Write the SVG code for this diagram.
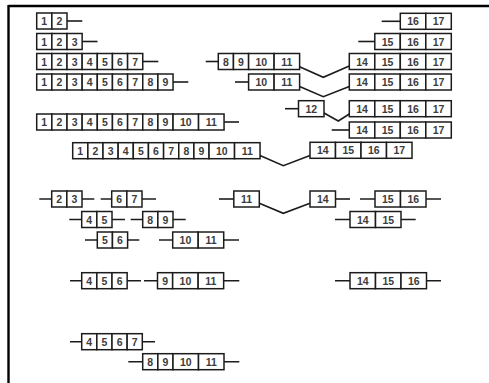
<svg xmlns="http://www.w3.org/2000/svg" width="489" height="383" viewBox="0 0 489 383">
<style>
rect{fill:#fff;stroke:#1c1c1c;stroke-width:1.5}
text{font-family:"Liberation Sans",Arial,sans-serif;font-size:10.5px;font-weight:bold;fill:#3c3c3c;text-anchor:middle}
line,polyline{stroke:#1c1c1c;stroke-width:1.6;fill:none}
.frame{stroke:#000;stroke-width:2.4}
</style>
<rect width="489" height="383" style="fill:#fff;stroke:none"/>
<line class="frame" x1="8.5" y1="6" x2="489" y2="6"/>
<line class="frame" x1="8.5" y1="5" x2="8.5" y2="383"/>

<g id="n-1-2">
<line x1="67" y1="21" x2="82.3" y2="21"/>
<rect x="36.7" y="13" width="15.15" height="16"/><rect x="51.85" y="13" width="15.15" height="16"/>
<text x="44.28" y="25">1</text><text x="59.43" y="25">2</text>
</g>
<g id="n-1-3">
<line x1="82.15" y1="41.5" x2="97.5" y2="41.5"/>
<rect x="36.7" y="33.5" width="15.15" height="16"/><rect x="51.85" y="33.5" width="15.15" height="16"/><rect x="67" y="33.5" width="15.15" height="16"/>
<text x="44.28" y="45.5">1</text><text x="59.43" y="45.5">2</text><text x="74.58" y="45.5">3</text>
</g>
<g id="n-1-7">
<line x1="142.75" y1="61.5" x2="158.3" y2="61.5"/>
<rect x="36.7" y="53.5" width="15.15" height="16"/><rect x="51.85" y="53.5" width="15.15" height="16"/><rect x="67" y="53.5" width="15.15" height="16"/><rect x="82.15" y="53.5" width="15.15" height="16"/><rect x="97.3" y="53.5" width="15.15" height="16"/><rect x="112.45" y="53.5" width="15.15" height="16"/><rect x="127.6" y="53.5" width="15.15" height="16"/>
<text x="44.28" y="65.5">1</text><text x="59.43" y="65.5">2</text><text x="74.58" y="65.5">3</text><text x="89.73" y="65.5">4</text><text x="104.88" y="65.5">5</text><text x="120.03" y="65.5">6</text><text x="135.18" y="65.5">7</text>
</g>
<g id="n-1-9">
<line x1="173.05" y1="82" x2="188.3" y2="82"/>
<rect x="36.7" y="74" width="15.15" height="16"/><rect x="51.85" y="74" width="15.15" height="16"/><rect x="67" y="74" width="15.15" height="16"/><rect x="82.15" y="74" width="15.15" height="16"/><rect x="97.3" y="74" width="15.15" height="16"/><rect x="112.45" y="74" width="15.15" height="16"/><rect x="127.6" y="74" width="15.15" height="16"/><rect x="142.75" y="74" width="15.15" height="16"/><rect x="157.9" y="74" width="15.15" height="16"/>
<text x="44.28" y="86">1</text><text x="59.43" y="86">2</text><text x="74.58" y="86">3</text><text x="89.73" y="86">4</text><text x="104.88" y="86">5</text><text x="120.03" y="86">6</text><text x="135.18" y="86">7</text><text x="150.33" y="86">8</text><text x="165.48" y="86">9</text>
</g>
<g id="n-1-11a">
<line x1="224.05" y1="122" x2="239" y2="122"/>
<rect x="36.7" y="114" width="15.15" height="16"/><rect x="51.85" y="114" width="15.15" height="16"/><rect x="67" y="114" width="15.15" height="16"/><rect x="82.15" y="114" width="15.15" height="16"/><rect x="97.3" y="114" width="15.15" height="16"/><rect x="112.45" y="114" width="15.15" height="16"/><rect x="127.6" y="114" width="15.15" height="16"/><rect x="142.75" y="114" width="15.15" height="16"/><rect x="157.9" y="114" width="15.15" height="16"/><rect x="173.05" y="114" width="25.5" height="16"/><rect x="198.55" y="114" width="25.5" height="16"/>
<text x="44.28" y="126">1</text><text x="59.43" y="126">2</text><text x="74.58" y="126">3</text><text x="89.73" y="126">4</text><text x="104.88" y="126">5</text><text x="120.03" y="126">6</text><text x="135.18" y="126">7</text><text x="150.33" y="126">8</text><text x="165.48" y="126">9</text><text x="185.8" y="126">10</text><text x="211.3" y="126">11</text>
</g>
<g id="n-8-11">
<line x1="205.7" y1="61.5" x2="218.3" y2="61.5"/>
<rect x="218.3" y="53.5" width="15.15" height="16"/><rect x="233.45" y="53.5" width="15.15" height="16"/><rect x="248.6" y="53.5" width="25.5" height="16"/><rect x="274.1" y="53.5" width="25.5" height="16"/>
<text x="225.88" y="65.5">8</text><text x="241.03" y="65.5">9</text><text x="261.35" y="65.5">10</text><text x="286.85" y="65.5">11</text>
</g>
<g id="n-10-11a">
<line x1="235" y1="82" x2="248.6" y2="82"/>
<rect x="248.6" y="74" width="25.5" height="16"/><rect x="274.1" y="74" width="25.5" height="16"/>
<text x="261.35" y="86">10</text><text x="286.85" y="86">11</text>
</g>
<g id="n-12">
<line x1="285" y1="108.7" x2="298.5" y2="108.7"/>
<rect x="298.5" y="100.7" width="25.5" height="16"/>
<text x="311.25" y="112.7">12</text>
</g>
<g id="n-16-17">
<line x1="381.7" y1="21.3" x2="400.3" y2="21.3"/>
<rect x="400.3" y="13.3" width="25.5" height="16"/><rect x="425.8" y="13.3" width="25.5" height="16"/>
<text x="413.05" y="25.3">16</text><text x="438.55" y="25.3">17</text>
</g>
<g id="n-15-17">
<line x1="358.3" y1="41.5" x2="374.8" y2="41.5"/>
<rect x="374.8" y="33.5" width="25.5" height="16"/><rect x="400.3" y="33.5" width="25.5" height="16"/><rect x="425.8" y="33.5" width="25.5" height="16"/>
<text x="387.55" y="45.5">15</text><text x="413.05" y="45.5">16</text><text x="438.55" y="45.5">17</text>
</g>
<g id="n-14-17a">
<rect x="349.3" y="53.5" width="25.5" height="16"/><rect x="374.8" y="53.5" width="25.5" height="16"/><rect x="400.3" y="53.5" width="25.5" height="16"/><rect x="425.8" y="53.5" width="25.5" height="16"/>
<text x="362.05" y="65.5">14</text><text x="387.55" y="65.5">15</text><text x="413.05" y="65.5">16</text><text x="438.55" y="65.5">17</text>
</g>
<g id="n-14-17b">
<rect x="349.3" y="74" width="25.5" height="16"/><rect x="374.8" y="74" width="25.5" height="16"/><rect x="400.3" y="74" width="25.5" height="16"/><rect x="425.8" y="74" width="25.5" height="16"/>
<text x="362.05" y="86">14</text><text x="387.55" y="86">15</text><text x="413.05" y="86">16</text><text x="438.55" y="86">17</text>
</g>
<g id="n-14-17c">
<rect x="349.3" y="100.7" width="25.5" height="16"/><rect x="374.8" y="100.7" width="25.5" height="16"/><rect x="400.3" y="100.7" width="25.5" height="16"/><rect x="425.8" y="100.7" width="25.5" height="16"/>
<text x="362.05" y="112.7">14</text><text x="387.55" y="112.7">15</text><text x="413.05" y="112.7">16</text><text x="438.55" y="112.7">17</text>
</g>
<g id="n-14-17d">
<line x1="331.7" y1="130" x2="349.3" y2="130"/>
<rect x="349.3" y="122" width="25.5" height="16"/><rect x="374.8" y="122" width="25.5" height="16"/><rect x="400.3" y="122" width="25.5" height="16"/><rect x="425.8" y="122" width="25.5" height="16"/>
<text x="362.05" y="134">14</text><text x="387.55" y="134">15</text><text x="413.05" y="134">16</text><text x="438.55" y="134">17</text>
</g>
<g id="n-1-11b">
<rect x="72.7" y="142.7" width="15.15" height="16"/><rect x="87.85" y="142.7" width="15.15" height="16"/><rect x="103" y="142.7" width="15.15" height="16"/><rect x="118.15" y="142.7" width="15.15" height="16"/><rect x="133.3" y="142.7" width="15.15" height="16"/><rect x="148.45" y="142.7" width="15.15" height="16"/><rect x="163.6" y="142.7" width="15.15" height="16"/><rect x="178.75" y="142.7" width="15.15" height="16"/><rect x="193.9" y="142.7" width="15.15" height="16"/><rect x="209.05" y="142.7" width="25.5" height="16"/><rect x="234.55" y="142.7" width="25.5" height="16"/>
<text x="80.28" y="154.7">1</text><text x="95.43" y="154.7">2</text><text x="110.58" y="154.7">3</text><text x="125.73" y="154.7">4</text><text x="140.88" y="154.7">5</text><text x="156.03" y="154.7">6</text><text x="171.18" y="154.7">7</text><text x="186.33" y="154.7">8</text><text x="201.48" y="154.7">9</text><text x="221.8" y="154.7">10</text><text x="247.3" y="154.7">11</text>
</g>
<g id="n-14-17e">
<rect x="310" y="142.3" width="25.5" height="16"/><rect x="335.5" y="142.3" width="25.5" height="16"/><rect x="361" y="142.3" width="25.5" height="16"/><rect x="386.5" y="142.3" width="25.5" height="16"/>
<text x="322.75" y="154.3">14</text><text x="348.25" y="154.3">15</text><text x="373.75" y="154.3">16</text><text x="399.25" y="154.3">17</text>
</g>

<g id="n-2-3">
<line x1="39.3" y1="199" x2="94.3" y2="199"/>
<rect x="51.7" y="191" width="15.15" height="16"/><rect x="66.85" y="191" width="15.15" height="16"/>
<text x="59.28" y="203">2</text><text x="74.43" y="203">3</text>
</g>
<g id="n-6-7">
<line x1="100.7" y1="199" x2="156" y2="199"/>
<rect x="111.7" y="191" width="15.15" height="16"/><rect x="126.85" y="191" width="15.15" height="16"/>
<text x="119.28" y="203">6</text><text x="134.43" y="203">7</text>
</g>
<g id="n-11">
<line x1="219" y1="199" x2="233.8" y2="199"/>
<rect x="233.8" y="191" width="25.5" height="16"/>
<text x="246.55" y="203">11</text>
</g>
<g id="n-14">
<line x1="335.5" y1="199" x2="350" y2="199"/>
<rect x="310" y="191" width="25.5" height="16"/>
<text x="322.75" y="203">14</text>
</g>
<g id="n-15-16">
<line x1="360" y1="199" x2="441" y2="199"/>
<rect x="375" y="191" width="25.5" height="16"/><rect x="400.5" y="191" width="25.5" height="16"/>
<text x="387.75" y="203">15</text><text x="413.25" y="203">16</text>
</g>
<g id="n-4-5">
<line x1="69.3" y1="219.5" x2="125" y2="219.5"/>
<rect x="81.7" y="211.5" width="15.15" height="16"/><rect x="96.85" y="211.5" width="15.15" height="16"/>
<text x="89.28" y="223.5">4</text><text x="104.43" y="223.5">5</text>
</g>
<g id="n-8-9">
<line x1="130.7" y1="219.5" x2="185.7" y2="219.5"/>
<rect x="142.7" y="211.5" width="15.15" height="16"/><rect x="157.85" y="211.5" width="15.15" height="16"/>
<text x="150.28" y="223.5">8</text><text x="165.43" y="223.5">9</text>
</g>
<g id="n-14-15">
<line x1="335" y1="219.5" x2="415.7" y2="219.5"/>
<rect x="350" y="211.5" width="25.5" height="16"/><rect x="375.5" y="211.5" width="25.5" height="16"/>
<text x="362.75" y="223.5">14</text><text x="388.25" y="223.5">15</text>
</g>
<g id="n-5-6">
<line x1="85" y1="240" x2="139.3" y2="240"/>
<rect x="97.3" y="232" width="15.15" height="16"/><rect x="112.45" y="232" width="15.15" height="16"/>
<text x="104.88" y="244">5</text><text x="120.03" y="244">6</text>
</g>
<g id="n-10-11b">
<line x1="159" y1="240" x2="239" y2="240"/>
<rect x="172.7" y="232" width="25.5" height="16"/><rect x="198.2" y="232" width="25.5" height="16"/>
<text x="185.45" y="244">10</text><text x="210.95" y="244">11</text>
</g>
<g id="n-4-6">
<line x1="70" y1="280.7" x2="141" y2="280.7"/>
<rect x="81.7" y="272.7" width="15.15" height="16"/><rect x="96.85" y="272.7" width="15.15" height="16"/><rect x="112" y="272.7" width="15.15" height="16"/>
<text x="89.28" y="284.7">4</text><text x="104.43" y="284.7">5</text><text x="119.58" y="284.7">6</text>
</g>
<g id="n-9-11">
<line x1="144" y1="280.7" x2="239.3" y2="280.7"/>
<rect x="157.5" y="272.7" width="15.15" height="16"/><rect x="172.65" y="272.7" width="25.5" height="16"/><rect x="198.15" y="272.7" width="25.5" height="16"/>
<text x="165.08" y="284.7">9</text><text x="185.4" y="284.7">10</text><text x="210.9" y="284.7">11</text>
</g>
<g id="n-14-16">
<line x1="335" y1="280.7" x2="441" y2="280.7"/>
<rect x="350" y="272.7" width="25.5" height="16"/><rect x="375.5" y="272.7" width="25.5" height="16"/><rect x="401" y="272.7" width="25.5" height="16"/>
<text x="362.75" y="284.7">14</text><text x="388.25" y="284.7">15</text><text x="413.75" y="284.7">16</text>
</g>
<g id="n-4-7">
<line x1="70" y1="341.7" x2="155" y2="341.7"/>
<rect x="81.7" y="333.7" width="15.15" height="16"/><rect x="96.85" y="333.7" width="15.15" height="16"/><rect x="112" y="333.7" width="15.15" height="16"/><rect x="127.15" y="333.7" width="15.15" height="16"/>
<text x="89.28" y="345.7">4</text><text x="104.43" y="345.7">5</text><text x="119.58" y="345.7">6</text><text x="134.73" y="345.7">7</text>
</g>
<g id="n-8-11b">
<line x1="128.3" y1="361.7" x2="239.3" y2="361.7"/>
<rect x="142.7" y="353.7" width="15.15" height="16"/><rect x="157.85" y="353.7" width="15.15" height="16"/><rect x="173" y="353.7" width="25.5" height="16"/><rect x="198.5" y="353.7" width="25.5" height="16"/>
<text x="150.28" y="365.7">8</text><text x="165.43" y="365.7">9</text><text x="185.75" y="365.7">10</text><text x="211.25" y="365.7">11</text>
</g>

<g id="connectors">
<polyline points="299.6,66.7 323.3,77.3 349.3,66"/>
<polyline points="299.6,86.5 323.3,96.7 349.3,86.5"/>
<polyline points="324,113 338.3,121 349.3,114"/>
<polyline points="260,155.5 283.3,165.7 310,155.5"/>
<polyline points="259.3,203.3 283.3,213.3 310,203.3"/>
</g>
</svg>
